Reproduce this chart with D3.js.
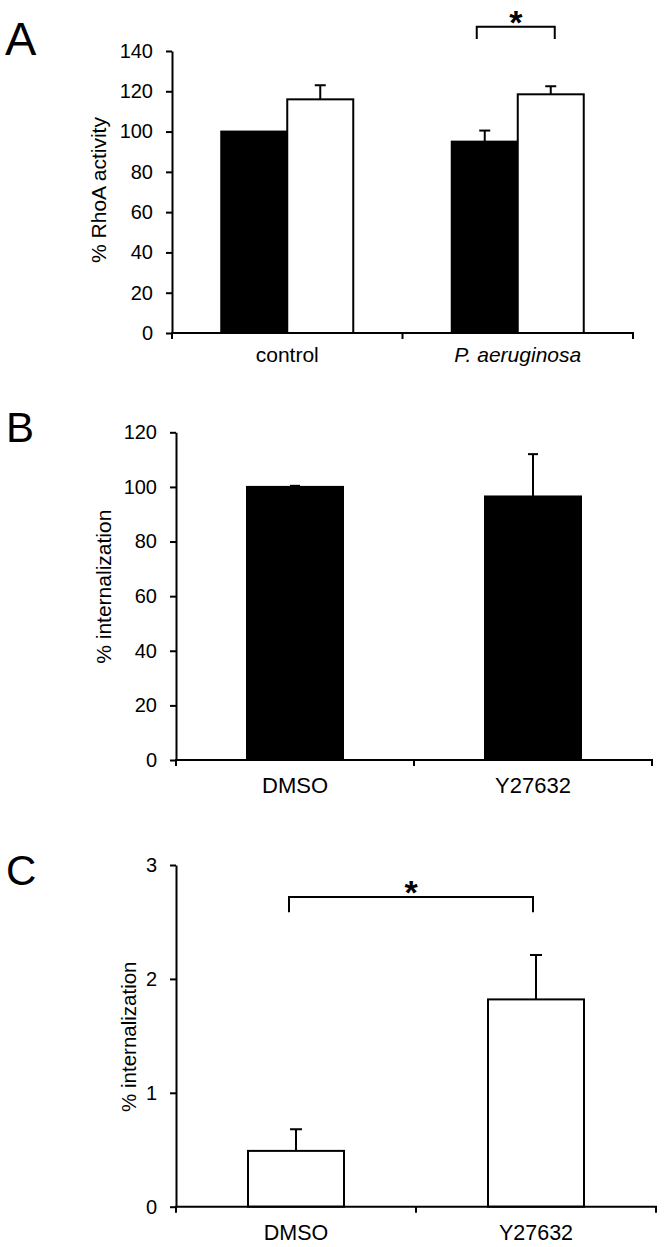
<!DOCTYPE html>
<html>
<head>
<meta charset="utf-8">
<script src="https://cdn.jsdelivr.net/npm/d3@7"></script>
<style>
  html, body { margin: 0; padding: 0; background: #fff; }
  svg text { font-family: "Liberation Sans", Arial, sans-serif; fill: #000; }
</style>
</head>
<body>
<svg id="chart" width="664" height="1247"></svg>
<script>
// ---------- DATA ----------
// Panel A
const categoriesA = ["control", "P. aeruginosa"];
const seriesA1 = [100, 95];      // black bars
const errorsA1 = [0, 5.5];
const seriesA2 = [116, 118.5];   // white bars
const errorsA2 = [7, 4];
const ticksA = [0, 20, 40, 60, 80, 100, 120, 140];

// Panel B
const categoriesB = ["DMSO", "Y27632"];
const seriesB = [100, 96.5];
const errorsB = [0.4, 15.5];
const ticksB = [0, 20, 40, 60, 80, 100, 120];

// Panel C
const categoriesC = ["DMSO", "Y27632"];
const seriesC = [0.49, 1.82];
const errorsC = [0.19, 0.39];
const ticksC = [0, 1, 2, 3];

// ---------- DRAWING ----------
const svg = d3.select("#chart");

function drawPanel(cfg) {
  const g = svg.append("g");
  const x = d3.scaleBand().domain(cfg.categories).range(cfg.xRange).paddingInner(0).paddingOuter(0);
  const y = d3.scaleLinear().domain(cfg.yDomain).range(cfg.yRange);
  const nSeries = cfg.series.length;
  const inner = d3.scaleBand().domain(d3.range(nSeries))
    .range([-cfg.barWidth * nSeries / 2, cfg.barWidth * nSeries / 2]);

  // bars
  cfg.series.forEach((vals, si) => {
    const recs = vals.map((v, i) => ({ c: cfg.categories[i], v, e: cfg.errors[si][i] }));
    g.selectAll(null).data(recs).enter().append("rect")
      .attr("x", d => x(d.c) + x.bandwidth() / 2 + inner(si))
      .attr("y", d => y(d.v))
      .attr("width", inner.bandwidth())
      .attr("height", d => y(0) - y(d.v))
      .attr("fill", cfg.fills[si])
      .attr("stroke", "#000")
      .attr("stroke-width", 2);
    // error bars
    const eb = recs.filter(d => d.e > 0);
    const cx = d => x(d.c) + x.bandwidth() / 2 + inner(si) + inner.bandwidth() / 2;
    g.selectAll(null).data(eb).enter().append("line")
      .attr("x1", cx).attr("x2", cx)
      .attr("y1", d => y(d.v)).attr("y2", d => y(d.v + d.e))
      .attr("stroke", "#000").attr("stroke-width", 2);
    g.selectAll(null).data(eb).enter().append("line")
      .attr("x1", d => cx(d) - cfg.capWidth / 2).attr("x2", d => cx(d) + cfg.capWidth / 2)
      .attr("y1", d => y(d.v + d.e)).attr("y2", d => y(d.v + d.e))
      .attr("stroke", "#000").attr("stroke-width", 2);
  });

  // y axis
  const yAxis = g.append("g")
    .attr("transform", `translate(${cfg.xRange[0]},0)`)
    .call(d3.axisLeft(y).tickValues(cfg.ticks).tickSize(6).tickSizeOuter(0).tickPadding(13).tickFormat(d3.format("d")));
  yAxis.select(".domain").attr("stroke", "#000").attr("stroke-width", 2);
  yAxis.selectAll(".tick line").attr("stroke", "#000").attr("stroke-width", 2);
  yAxis.selectAll(".tick text").attr("font-size", cfg.tickFont + "px")
    .style("font-family", '"Liberation Sans", Arial, sans-serif').attr("fill", "#000");

  // x axis (Excel style: ticks at category boundaries)
  const bounds = [x.range()[0]].concat(cfg.categories.map(c => x(c) + x.bandwidth()));
  g.append("line")
    .attr("x1", x.range()[0] - 1).attr("x2", x.range()[1] + 1)
    .attr("y1", y(0)).attr("y2", y(0))
    .attr("stroke", "#000").attr("stroke-width", 2);
  g.selectAll(null).data(bounds).enter().append("line")
    .attr("x1", d => d).attr("x2", d => d)
    .attr("y1", y(0)).attr("y2", y(0) + 6)
    .attr("stroke", "#000").attr("stroke-width", 2);

  // category labels
  g.selectAll(null).data(cfg.categories).enter().append("text")
    .attr("x", d => x(d) + x.bandwidth() / 2)
    .attr("y", y(0) + cfg.catOffset)
    .attr("text-anchor", "middle")
    .attr("font-size", cfg.catFont + "px")
    .attr("font-style", (d, i) => cfg.italic && cfg.italic[i] ? "italic" : "normal")
    .text(d => d);

  // y label
  g.append("text")
    .attr("transform", `translate(${cfg.yLabelX},${cfg.yLabelY}) rotate(-90)`)
    .attr("text-anchor", "middle")
    .attr("font-size", cfg.yLabelFont + "px")
    .text(cfg.yLabel);

  // panel letter
  g.append("text")
    .attr("x", cfg.letterX).attr("y", cfg.letterY)
    .attr("font-size", cfg.letterFont + "px")
    .text(cfg.letter);

  // significance bracket
  if (cfg.sig) {
    const s = cfg.sig;
    const barCenter = (ci, si) => x(cfg.categories[ci]) + x.bandwidth() / 2 + inner(si) + inner.bandwidth() / 2;
    const x1 = barCenter(s.from[0], s.from[1]) + s.dx1;
    const x2 = barCenter(s.to[0], s.to[1]) + s.dx2;
    g.append("path")
      .attr("d", `M${x1},${y(s.tip)} L${x1},${y(s.level)} L${x2},${y(s.level)} L${x2},${y(s.tip)}`)
      .attr("fill", "none").attr("stroke", "#000").attr("stroke-width", 2);
    g.append("text")
      .attr("x", (x1 + x2) / 2).attr("y", y(s.level) + 7)
      .attr("text-anchor", "middle")
      .attr("font-size", "34px").attr("font-weight", "bold")
      .text("*");
  }
}

drawPanel({
  categories: categoriesA, series: [seriesA1, seriesA2], errors: [errorsA1, errorsA2],
  fills: ["#000", "#fff"], ticks: ticksA,
  xRange: [172, 633], yRange: [333, 51], yDomain: [0, 140],
  barWidth: 66, capWidth: 11, tickFont: 20, catFont: 21, catOffset: 29,
  italic: [false, true],
  yLabel: "% RhoA activity", yLabelX: 106, yLabelY: 190, yLabelFont: 21,
  letter: "A", letterX: 5, letterY: 54.5, letterFont: 47,
  sig: { from: [1, 0], to: [1, 1], dx1: -8, dx2: 4, level: 152, tip: 146 }
});

drawPanel({
  categories: categoriesB, series: [seriesB], errors: [errorsB],
  fills: ["#000"], ticks: ticksB,
  xRange: [176, 652], yRange: [760, 432.3], yDomain: [0, 120],
  barWidth: 96, capWidth: 10, tickFont: 20, catFont: 22, catOffset: 33,
  yLabel: "% internalization", yLabelX: 111, yLabelY: 586.7, yLabelFont: 21,
  letter: "B", letterX: 6, letterY: 441.7, letterFont: 42
});

drawPanel({
  categories: categoriesC, series: [seriesC], errors: [errorsC],
  fills: ["#fff"], ticks: ticksC,
  xRange: [176, 656], yRange: [1206.7, 865], yDomain: [0, 3],
  barWidth: 96, capWidth: 12, tickFont: 20, catFont: 21.5, catOffset: 33,
  yLabel: "% internalization", yLabelX: 136, yLabelY: 1036.7, yLabelFont: 20.5,
  letter: "C", letterX: 6, letterY: 884.5, letterFont: 42,
  sig: { from: [0, 0], to: [1, 0], dx1: -7, dx2: -3, level: 2.72, tip: 2.585 }
});
</script>
</body>
</html>
